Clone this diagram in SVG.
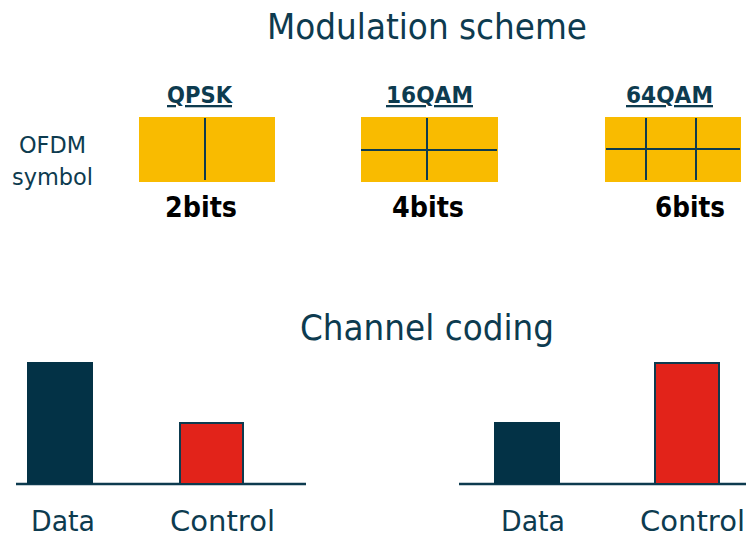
<svg xmlns="http://www.w3.org/2000/svg" width="746" height="537" viewBox="0 0 746 537">
<style>
.t{font-family:"DejaVu Sans","Noto Sans",sans-serif;fill:#0D3B4F}
.title{font-size:35px}
.mod{font-size:23px;font-weight:bold;text-decoration:underline}
.bits{font-family:"DejaVu Sans",sans-serif;font-size:28px;font-weight:bold;fill:#000}
.lab{font-size:28px}
.side{font-size:23px}
.box{fill:#F9BB00}
.grid{stroke:#0D3B4F;stroke-width:2;fill:none}
.axis{stroke:#0D3B4F;stroke-width:2.5}
.dbar{fill:#033246}
.cbar{fill:#E2231A;stroke:#0D3B4F;stroke-width:2}
</style>
<rect width="746" height="537" fill="#fff"/>
<text class="t title" x="267" y="39" textLength="320" lengthAdjust="spacingAndGlyphs">Modulation scheme</text>
<text class="t side" x="19" y="153" textLength="67" lengthAdjust="spacingAndGlyphs">OFDM</text>
<text class="t side" x="12" y="185" textLength="81" lengthAdjust="spacingAndGlyphs">symbol</text>
<g id="qpsk">
<text class="t mod" x="167" y="103" textLength="65" lengthAdjust="spacingAndGlyphs">QPSK</text>
<rect class="box" x="139" y="117" width="136" height="65"/>
<line class="grid" x1="205" y1="118" x2="205" y2="180"/>
<text class="bits" x="165" y="217" textLength="72" lengthAdjust="spacingAndGlyphs">2bits</text>
</g>
<g id="qam16">
<text class="t mod" x="386" y="103" textLength="87" lengthAdjust="spacingAndGlyphs">16QAM</text>
<rect class="box" x="361" y="117" width="137" height="65"/>
<line class="grid" x1="427" y1="118" x2="427" y2="180"/>
<line class="grid" x1="361" y1="150" x2="497" y2="150"/>
<text class="bits" x="392" y="217" textLength="72" lengthAdjust="spacingAndGlyphs">4bits</text>
</g>
<g id="qam64">
<text class="t mod" x="626" y="103" textLength="87" lengthAdjust="spacingAndGlyphs">64QAM</text>
<rect class="box" x="605" y="117" width="136" height="65"/>
<line class="grid" x1="646" y1="118" x2="646" y2="180"/>
<line class="grid" x1="696" y1="118" x2="696" y2="180"/>
<line class="grid" x1="606" y1="149" x2="740" y2="149"/>
<text class="bits" x="655" y="217" textLength="70" lengthAdjust="spacingAndGlyphs">6bits</text>
</g>
<text class="t title" x="300" y="340" textLength="254" lengthAdjust="spacingAndGlyphs">Channel coding</text>
<g id="connectors">
<line class="axis" x1="16" y1="484" x2="306" y2="484"/>
<line class="axis" x1="459" y1="484" x2="746" y2="484"/>
</g>
<g id="left-data">
<rect class="dbar" x="27" y="362" width="66" height="122"/>
<text class="t lab" x="31" y="531" textLength="64" lengthAdjust="spacingAndGlyphs">Data</text>
</g>
<g id="left-control">
<rect class="cbar" x="180" y="423" width="63" height="61"/>
<text class="t lab" x="170" y="531" textLength="105" lengthAdjust="spacingAndGlyphs">Control</text>
</g>
<g id="right-data">
<rect class="dbar" x="494" y="422" width="66" height="62"/>
<text class="t lab" x="501" y="531" textLength="64" lengthAdjust="spacingAndGlyphs">Data</text>
</g>
<g id="right-control">
<rect class="cbar" x="655" y="363" width="64" height="121"/>
<text class="t lab" x="640" y="531" textLength="105" lengthAdjust="spacingAndGlyphs">Control</text>
</g>
</svg>
